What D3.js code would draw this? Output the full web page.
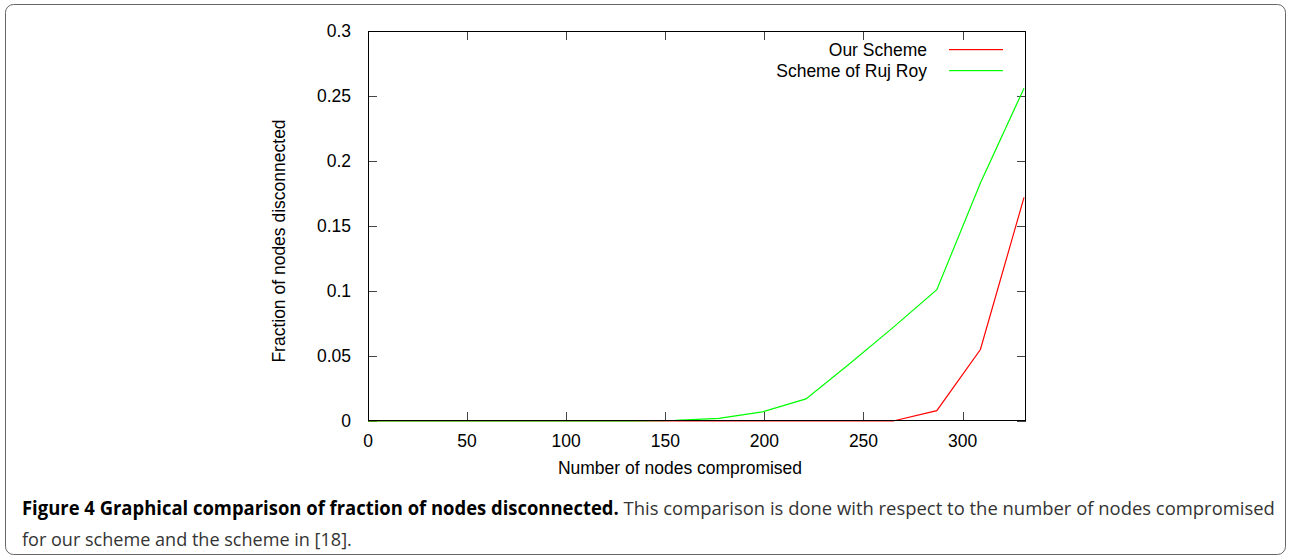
<!DOCTYPE html>
<html><head><meta charset="utf-8">
<script src="https://cdn.jsdelivr.net/npm/d3@7"></script>
<style>body{margin:0;background:#fff}svg{display:block}</style>
</head><body>
<svg id="c" width="1291" height="559"></svg>
<script>
const nodesCompromised = [0,22,44,66,88,110,133,155,177,199,221,243,265,287,309,331];
const ourScheme      = [0,0,0,0,0,0,0,0,0,0,0,0,0,0.008,0.055,0.172];
const rujRoyScheme   = [0,0,0,0,0,0,0,0.0005,0.002,0.007,0.017,0.044,0.072,0.101,0.183,0.256];
const xTicks = [0,50,100,150,200,250,300];
const yTicks = [0,0.05,0.1,0.15,0.2,0.25,0.3];
const seriesNames = ["Our Scheme","Scheme of Ruj Roy"];
const seriesColors = ["#ff0000","#00ff00"];

const svg = d3.select("#c");
const L=368, R=1026, T=31, B=421;
const x = d3.scaleLinear().domain([0,332]).range([L,R]);
const y = d3.scaleLinear().domain([0,0.3]).range([B,T]);
const font = "'Liberation Sans', Arial, sans-serif";
const fs = 17.5;

// outer frame
svg.append("rect").attr("x",5.5).attr("y",4.5).attr("width",1280).attr("height",550)
  .attr("rx",8).attr("fill","none").attr("stroke","#666").attr("stroke-width",1);

// ticks (inward, mirrored)
const tk = svg.append("g").attr("stroke","#444").attr("stroke-width",1);
xTicks.forEach(v=>{ const px=Math.round(x(v))+0.5;
  tk.append("line").attr("x1",px).attr("x2",px).attr("y1",B).attr("y2",B-9);
  tk.append("line").attr("x1",px).attr("x2",px).attr("y1",T).attr("y2",T+9);});
yTicks.forEach(v=>{ const py=Math.round(y(v))+0.5;
  tk.append("line").attr("x1",L).attr("x2",L+9).attr("y1",py).attr("y2",py);
  tk.append("line").attr("x1",R).attr("x2",R-9).attr("y1",py).attr("y2",py);});

// tick labels
svg.append("g").selectAll("text").data(xTicks).join("text")
  .attr("x",d=>x(d)).attr("y",447).attr("text-anchor","middle")
  .attr("font-family",font).attr("font-size",fs).attr("fill","#000").text(d=>d);
svg.append("g").selectAll("text").data(yTicks).join("text")
  .attr("x",351).attr("y",d=>y(d)+6).attr("text-anchor","end")
  .attr("font-family",font).attr("font-size",fs).attr("fill","#000").text(d=>d);

// axis titles
svg.append("text").attr("x",680).attr("y",474).attr("text-anchor","middle")
  .attr("font-family",font).attr("font-size",fs).text("Number of nodes compromised");
svg.append("text").attr("transform","translate(285,241) rotate(-90)").attr("text-anchor","middle")
  .attr("font-family",font).attr("font-size",fs).text("Fraction of nodes disconnected");

// series
const line = d3.line().x((d,i)=>x(nodesCompromised[i])).y(d=>y(d));
svg.append("clipPath").attr("id","pc").append("rect").attr("x",L).attr("y",T-1).attr("width",R-L).attr("height",B-T+2);
[ourScheme, rujRoyScheme].forEach((s,i)=>{
  svg.append("path").datum(s).attr("d",line).attr("fill","none")
    .attr("stroke",seriesColors[i]).attr("stroke-width",1.2).attr("clip-path","url(#pc)");
});

// plot frame
svg.append("rect").attr("x",L+0.5).attr("y",T+0.5).attr("width",R-L-1).attr("height",B-T-1)
  .attr("fill","none").attr("stroke","#000").attr("stroke-width",1);

// legend
seriesNames.forEach((n,i)=>{
  const ly = 49 + i*21;
  svg.append("text").attr("x",927).attr("y",ly+7).attr("text-anchor","end")
    .attr("font-family",font).attr("font-size",fs).text(n);
  svg.append("rect").attr("x",949).attr("y",ly).attr("width",54).attr("height",1.2)
    .attr("fill",seriesColors[i]);
});

// caption
const capFont = "'Open Sans', 'Noto Sans', sans-serif";
const c1 = svg.append("text").attr("x",22).attr("y",515).attr("font-family",capFont).attr("font-size",19);
c1.append("tspan").attr("font-weight","bold").attr("fill","#000").text("Figure 4 Graphical comparison of fraction of nodes disconnected.");
c1.append("tspan").attr("fill","#333").text(" This comparison is done with respect to the number of nodes compromised");
const c2 = svg.append("text").attr("x",22).attr("y",546).attr("font-family",capFont).attr("font-size",19)
  .attr("fill","#333").text("for our scheme and the scheme in [18].");
function fit(t, w){ const cw=t.node().getComputedTextLength(); const s=w/cw;
  t.attr("transform",`translate(22,0) scale(${s},1) translate(-22,0)`); }
fit(c1, 1253);
fit(c2, 330);
</script>
</body></html>
